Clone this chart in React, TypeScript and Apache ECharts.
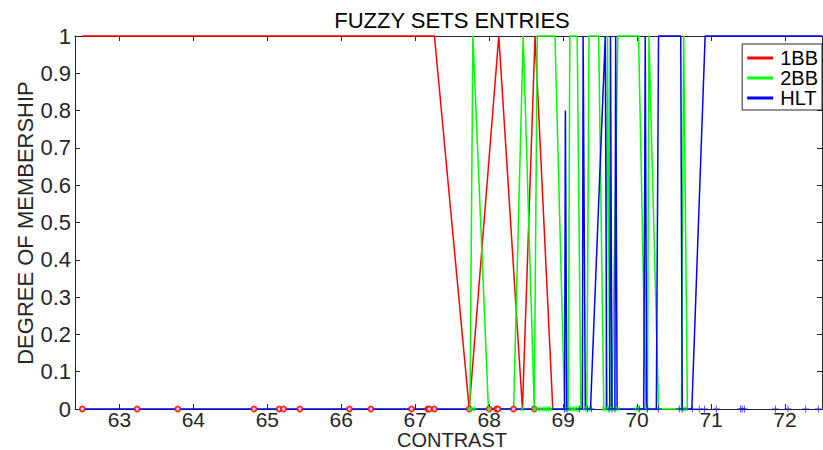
import React, { useEffect, useRef } from "react";
import * as echarts from "echarts";

// ---------- data ----------
const X_MIN = 62.4;
const X_MAX = 72.5;
const xTickValues = [63, 64, 65, 66, 67, 68, 69, 70, 71, 72];
const yTickValues = [0, 0.1, 0.2, 0.3, 0.4, 0.5, 0.6, 0.7, 0.8, 0.9, 1];
const seriesNames = ["1BB", "2BB", "HLT"];
const titleText = "FUZZY SETS ENTRIES";
const xName = "CONTRAST";
const yName = "DEGREE OF MEMBERSHIP";

// membership curves (x, degree)
const redX = [62.5, 63.24, 63.79, 64.82, 65.16, 65.22, 65.44, 66.11, 66.4, 66.95, 67.17, 67.19, 67.26, 67.73, 68.13, 68.45, 68.62, 68.86];
const redY = [1, 1, 1, 1, 1, 1, 1, 1, 1, 1, 1, 1, 1, 0, 1, 0, 1, 0];

const greenX = [67.74, 67.78, 67.99, 68.33, 68.46, 68.61, 68.65, 68.89, 69.02, 69.07, 69.09, 69.19, 69.24, 69.32, 69.35, 69.48, 69.55, 69.58, 69.6, 69.63, 69.66, 69.74, 70.02, 70.12, 70.14, 70.16, 70.29, 70.6, 70.63, 70.68];
const greenY = [0, 1, 0, 0, 1, 0, 1, 1, 0, 0, 1, 1, 0, 0, 1, 1, 0, 0, 1, 0, 0, 1, 1, 0, 0, 1, 0, 0, 1, 0];

const blueX = [62.5, 69.02, 69.03, 69.05, 69.26, 69.27, 69.3, 69.37, 69.57, 69.59, 69.63, 69.64, 69.66, 69.7, 69.71, 69.73, 70.09, 70.11, 70.13, 70.26, 70.29, 70.59, 70.61, 70.74, 70.92, 72.5];
const blueY = [0, 0, 0.8, 0, 0, 1, 0, 0, 1, 0, 0, 1, 0, 0, 1, 0, 0, 1, 0, 0, 1, 1, 0, 0, 1, 1];

// sample entries (drawn at degree 0)
const redEntries = [62.5, 63.24, 63.79, 64.82, 65.16, 65.22, 65.44, 66.11, 66.4, 66.95, 67.17, 67.19, 67.26, 67.73, 68.0, 68.1, 68.12, 68.33, 68.61];
const greenEntries = [67.73, 67.76, 67.8, 67.99, 68.45, 68.61, 68.66, 68.7, 68.74, 68.77, 68.8, 68.83, 69.03, 69.06, 69.09, 69.12, 69.15, 69.18, 69.21, 69.3, 69.33, 69.36, 69.55, 69.59, 69.62, 69.66, 69.7, 69.74, 69.99, 70.02, 70.13, 70.6, 70.63, 70.66];
const blueEntries = [69.02, 69.05, 69.22, 69.33, 69.38, 69.62, 69.66, 69.7, 70.03, 70.14, 70.29, 70.57, 70.61, 70.75, 70.84, 70.91, 71.07, 71.4, 71.42, 71.45, 71.87, 72.04, 72.28, 72.45];

const colors = ["#ff0000", "#00ff00", "#0000ff"];

const PLUS = "path://M4.4,0H5.6V10H4.4Z M0,4.4H10V5.6H0Z";
const STAR = "path://M4.4,0H5.6V10H4.4Z M0,4.4H10V5.6H0Z M1.3,2.1L2.1,1.3L8.7,7.9L7.9,8.7Z M7.9,1.3L8.7,2.1L2.1,8.7L1.3,7.9Z";

const FONT = "Liberation Sans, Arial, sans-serif";
const TXT = "#262626";

function zip(xs: number[], ys: number[]) {
  return xs.map((x, i) => [x, ys[i]]);
}
function atZero(xs: number[]) {
  return xs.map((x) => [x, 0]);
}

export default function App() {
  const ref = useRef<HTMLDivElement>(null);
  useEffect(() => {
    if (!ref.current) return;
    const chart = echarts.init(ref.current, null, { renderer: "svg" });
    const axisLine = { show: true, onZero: false, lineStyle: { color: TXT, width: 1 } };
    const tick = (vals?: number[]) => ({
      show: true,
      inside: true,
      length: 5,
      lineStyle: { color: TXT, width: 1 },
      ...(vals ? { customValues: vals } : {}),
    });
    const lineSeries = (name: string, data: number[][], color: string) => ({
      name,
      type: "line",
      data,
      showSymbol: false,
      clip: false,
      color,
      lineStyle: { color, width: 1.5 },
      z: 3,
    });
    const option: any = {
      animation: false,
      backgroundColor: "#ffffff",
      textStyle: { fontFamily: FONT },
      grid: { left: 75, top: 36, width: 747, height: 373, outerBoundsMode: "none", containLabel: false },
      graphic: [
        {
          type: "text",
          x: 452,
          y: 9,
          style: { text: titleText, fontSize: 22, fontFamily: FONT, fill: "#000", textAlign: "center" },
        },
        {
          type: "text",
          x: 452,
          y: 439.5,
          style: {
            text: xName,
            fontSize: 20,
            lineHeight: 18,
            fontFamily: FONT,
            fill: TXT,
            textAlign: "center",
            textVerticalAlign: "middle",
          },
        },
        {
          type: "text",
          x: 25,
          y: 223,
          rotation: Math.PI / 2,
          style: {
            text: yName,
            fontSize: 22,
            fontFamily: FONT,
            fill: TXT,
            textAlign: "center",
            textVerticalAlign: "middle",
          },
        },
      ],
      legend: {
        data: seriesNames,
        orient: "vertical",
        right: 1,
        top: 44,
        padding: [4, 4, 2, 5],
        itemGap: 0,
        itemWidth: 26,
        itemHeight: 3,
        icon: "rect",
        backgroundColor: "#ffffff",
        borderColor: TXT,
        borderWidth: 1,
        borderRadius: 0,
        textStyle: { fontSize: 20, lineHeight: 20, color: "#000", fontFamily: FONT, padding: [0, 0, 0, 2] },
      },
      xAxis: [
        {
          type: "value",
          position: "bottom",
          min: X_MIN,
          max: X_MAX,
          axisLine,
          axisTick: tick(xTickValues),
          axisLabel: {
            customValues: xTickValues,
            fontSize: 21,
            lineHeight: 18,
            color: TXT,
            fontFamily: FONT,
            margin: 1,
            formatter: (v: number) => String(v),
          },
          splitLine: { show: false },
        },
        {
          type: "value",
          position: "top",
          min: X_MIN,
          max: X_MAX,
          axisLine,
          axisTick: tick(xTickValues),
          axisLabel: { show: false },
          splitLine: { show: false },
        },
      ],
      yAxis: [
        {
          type: "value",
          position: "left",
          min: 0,
          max: 1,
          interval: 0.1,
          axisLine,
          axisTick: tick(),
          axisLabel: {
            fontSize: 22,
            color: TXT,
            fontFamily: FONT,
            margin: 4,
            formatter: (v: number) => String(+v.toFixed(1)),
          },
          splitLine: { show: false },
        },
        {
          type: "value",
          position: "right",
          min: 0,
          max: 1,
          interval: 0.1,
          axisLine,
          axisTick: tick(),
          axisLabel: { show: false },
          splitLine: { show: false },
        },
      ],
      series: [
        lineSeries(seriesNames[0], zip(redX, redY), colors[0]),
        lineSeries(seriesNames[1], zip(greenX, greenY), colors[1]),
        lineSeries(seriesNames[2], zip(blueX, blueY), colors[2]),
        {
          name: "1BB entries",
          type: "scatter",
          data: atZero(redEntries),
          symbol: "emptyCircle",
          symbolSize: 5,
          clip: false,
          itemStyle: { color: colors[0], borderColor: colors[0], borderWidth: 1.3 },
          z: 4,
        },
        {
          name: "2BB entries",
          type: "scatter",
          data: atZero(greenEntries),
          symbol: STAR,
          symbolSize: 6,
          clip: false,
          itemStyle: { color: colors[1] },
          z: 4,
        },
        {
          name: "HLT entries",
          type: "scatter",
          data: atZero(blueEntries),
          symbol: PLUS,
          symbolSize: 7,
          clip: false,
          itemStyle: { color: colors[2] },
          z: 4,
        },
      ],
    };
    chart.setOption(option);
    return () => chart.dispose();
  }, []);
  return (
    <div
      ref={ref}
      style={{ position: "absolute", left: 0, top: 0, width: 823, height: 450, background: "#fff" }}
    />
  );
}
